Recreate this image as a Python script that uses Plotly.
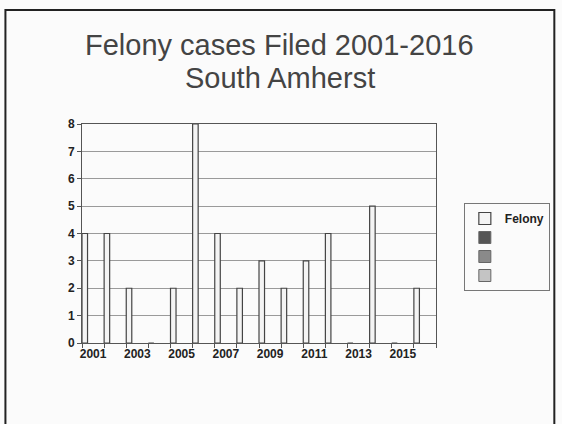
import plotly.graph_objects as go

years = list(range(2001, 2017))
felony = [4, 4, 2, 0, 2, 8, 4, 2, 3, 2, 3, 4, 0, 5, 0, 2]
tick_years = [2001, 2003, 2005, 2007, 2009, 2011, 2013, 2015]
series_names = ["Felony", "", "", ""]
series_colors = ["#f4f4f4", "#555555", "#8a8a8a", "#c4c4c4"]

W, H = 562, 424
L, R, T, B = 82, 438, 124, 343
pw, ph = R - L, B - T

def px(x):
    return (x - L) / pw

def py(y):
    return (B - y) / ph

fig = go.Figure()
fig.add_trace(go.Bar(
    x=years, y=felony, name=f"<b>{series_names[0]}</b>",
    offset=-0.5, width=0.25,
    marker=dict(color=series_colors[0], line=dict(color="#444444", width=1.2)),
))
for name, col in zip(series_names[1:], series_colors[1:]):
    fig.add_trace(go.Bar(
        x=years, y=[None] * len(years), name=name or " ",
        offset=-0.5, width=0.25,
        marker=dict(color=col, line=dict(color="#666666", width=1)),
    ))

font = "Liberation Sans, Arial, sans-serif"

fig.update_layout(
    width=W, height=H, autosize=False,
    margin=dict(l=L, r=W - R, t=T, b=H - B, pad=0),
    paper_bgcolor="#fbfbfb", plot_bgcolor="#fbfbfb",
    barmode="overlay",
    showlegend=True,
    legend=dict(
        x=px(466), y=py(203), xanchor="left", yanchor="top",
        bordercolor="#777777", borderwidth=1, bgcolor="#fbfbfb",
        font=dict(family=font, size=12, color="#222222"),
        itemwidth=30, tracegroupgap=0,
        traceorder="normal",
    ),
    font=dict(family=font, color="#222222"),
    xaxis=dict(
        range=[2000.5, 2016.5],
        tickvals=tick_years, ticktext=[f"<b>{y}</b>" for y in tick_years],
        ticks="", showgrid=False,
        showline=True, linecolor="#555555", linewidth=1, mirror=True,
        tickfont=dict(family=font, size=12, color="#222222"),
        minor=dict(tickvals=[y + 0.5 for y in range(2000, 2017)], ticks="outside",
                   ticklen=4, tickcolor="#555555", showgrid=False),
        zeroline=False,
    ),
    yaxis=dict(
        range=[0, 8], dtick=1,
        tickvals=list(range(9)), ticktext=[f"<b>{v}</b>" for v in range(9)],
        ticks="outside", ticklen=4, tickcolor="#555555",
        showgrid=True, gridcolor="#9a9a9a", gridwidth=1,
        showline=True, linecolor="#555555", linewidth=1, mirror=True,
        tickfont=dict(family=font, size=12, color="#222222"),
        zeroline=False,
    ),
    shapes=[
        dict(type="rect", xref="paper", yref="paper",
             x0=px(5), x1=px(557), y0=py(432), y1=py(10),
             line=dict(color="#222222", width=2), fillcolor="rgba(0,0,0,0)", layer="below"),
    ],
    annotations=[
        dict(text="Felony cases Filed 2001-2016", xref="paper", yref="paper",
             x=px(281), y=py(45), xanchor="center", yanchor="middle", showarrow=False,
             font=dict(family=font, size=29, color="#444444")),
        dict(text="South Amherst", xref="paper", yref="paper",
             x=px(281), y=py(78), xanchor="center", yanchor="middle", showarrow=False,
             font=dict(family=font, size=29, color="#444444")),
    ],
)

fig.write_html("out.html", config={"displayModeBar": False},
               post_script="document.body.style.margin='0';document.body.style.overflow='hidden';")
